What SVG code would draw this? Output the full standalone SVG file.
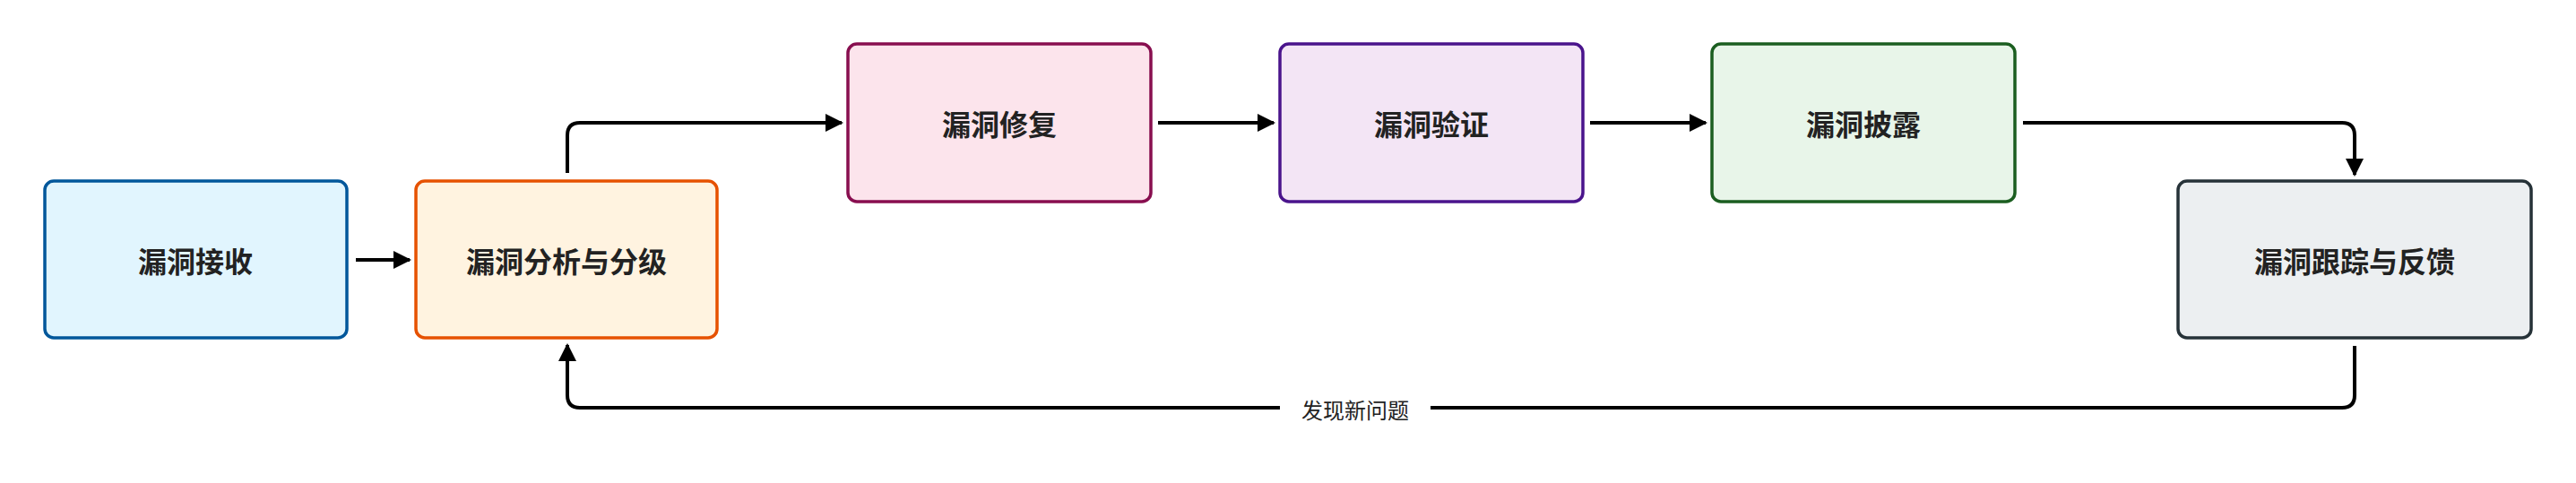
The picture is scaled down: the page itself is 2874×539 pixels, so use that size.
<svg xmlns="http://www.w3.org/2000/svg" width="2874" height="539" viewBox="0 0 2874 539">
<style>
.n{stroke-width:3.5}
.t{font-family:"Noto Sans CJK SC","Noto Sans",sans-serif;font-size:32px;font-weight:bold;fill:#222;text-anchor:middle;dominant-baseline:central}
.c{fill:none;stroke:#000;stroke-width:4}
.l{font-family:"Noto Sans CJK SC","Noto Sans",sans-serif;font-size:24px;fill:#222;text-anchor:middle;dominant-baseline:central}
</style>
<defs><marker id="a" viewBox="0 0 10 10" refX="9" refY="5" markerWidth="5" markerHeight="5" orient="auto" markerUnits="strokeWidth"><path d="M0,0L10,5L0,10z" fill="#000"/></marker></defs>
<rect width="2874" height="539" fill="#fff"/>
<g id="n1"><rect class="n" x="50" y="202" width="337" height="175" rx="10" fill="#e1f5fe" stroke="#01579b"/><text class="t" x="218" y="290">漏洞接收</text></g>
<g id="n2"><rect class="n" x="464" y="202" width="336" height="175" rx="10" fill="#fff3e0" stroke="#e65100"/><text class="t" x="632" y="290">漏洞分析与分级</text></g>
<g id="n3"><rect class="n" x="946" y="49" width="338" height="176" rx="10" fill="#fce4ec" stroke="#880e4f"/><text class="t" x="1115" y="137">漏洞修复</text></g>
<g id="n4"><rect class="n" x="1428" y="49" width="338" height="176" rx="10" fill="#f3e5f5" stroke="#4a148c"/><text class="t" x="1597" y="137">漏洞验证</text></g>
<g id="n5"><rect class="n" x="1910" y="49" width="338" height="176" rx="10" fill="#e8f5e9" stroke="#1b5e20"/><text class="t" x="2079" y="137">漏洞披露</text></g>
<g id="n6"><rect class="n" x="2430" y="202" width="394" height="175" rx="10" fill="#eceff1" stroke="#263238"/><text class="t" x="2627" y="290">漏洞跟踪与反馈</text></g>
<g id="connectors">
<path class="c" marker-end="url(#a)" d="M397,290H457"/>
<path class="c" marker-end="url(#a)" d="M633,193V151Q633,137 647,137H939"/>
<path class="c" marker-end="url(#a)" d="M1292,137H1421"/>
<path class="c" marker-end="url(#a)" d="M1774,137H1903"/>
<path class="c" marker-end="url(#a)" d="M2257,137H2613Q2627,137 2627,151V195"/>
<path class="c" marker-end="url(#a)" d="M2627,386V441Q2627,455 2613,455H647Q633,455 633,441V385"/>
<rect x="1428" y="440" width="168" height="32" fill="#fff"/>
<text class="l" x="1512" y="456">发现新问题</text>
</g>
</svg>
